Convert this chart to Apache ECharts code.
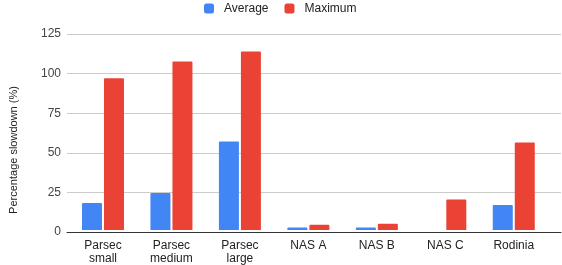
<!DOCTYPE html>
<html><head><meta charset="utf-8">
<script src="https://cdn.jsdelivr.net/npm/echarts@6/dist/echarts.min.js"></script>
<style>html,body{margin:0;padding:0;background:#fff}#c{width:562px;height:265px}</style>
</head><body><div id="c"></div>
<script>
var categories = ['Parsec\nsmall', 'Parsec\nmedium', 'Parsec\nlarge', 'NAS A', 'NAS B', 'NAS C', 'Rodinia'];
var average = [17.2, 23.6, 56.4, 1.6, 1.6, 0, 16.0];
var maximum = [96.8, 107.5, 113.8, 3.4, 4.0, 19.4, 55.8];
var yTicks = [0, 25, 50, 75, 100, 125];
var FONT = 'Liberation Sans, Arial, sans-serif';
var chart = echarts.init(document.getElementById('c'), null, {renderer: 'canvas'});
chart.setOption({
  animation: false,
  textStyle: {fontFamily: FONT},
  legend: {
    top: 2.5, left: 204, padding: 0, itemWidth: 10, itemHeight: 10, itemGap: 16,
    textStyle: {fontFamily: FONT, fontSize: 12, color: '#222', padding: [0, 0, 0, 5]},
    data: ['Average', 'Maximum']
  },
  grid: [
    {left: 68.75, right: 14, top: 34, bottom: 33},
    {left: 56, right: 1, top: 34, bottom: 33}
  ],
  xAxis: [
    {type: 'category', gridIndex: 0, data: categories,
     axisLine: {show: false}, axisTick: {show: false},
     axisLabel: {fontFamily: FONT, fontSize: 12, color: '#222', margin: 9, lineHeight: 13, interval: 0}},
    {type: 'value', gridIndex: 1, min: 0, max: 1,
     axisLine: {show: true, lineStyle: {color: '#333', width: 1}},
     axisTick: {show: false}, axisLabel: {show: false}, splitLine: {show: false}}
  ],
  yAxis: [
    {type: 'value', gridIndex: 0, min: 0, max: 125, interval: 25, show: false, splitLine: {show: false}},
    {type: 'value', gridIndex: 1, min: yTicks[0], max: yTicks[yTicks.length - 1], interval: 25,
     name: 'Percentage slowdown (%)', nameLocation: 'middle', nameGap: 48,
     nameTextStyle: {fontFamily: FONT, fontSize: 11, color: '#222', padding: [0, 34, 0, 0]},
     axisLine: {show: false}, axisTick: {show: false},
     axisLabel: {fontFamily: FONT, fontSize: 12, color: '#444', margin: 6},
     splitLine: {lineStyle: {color: '#ccc', width: 1}}}
  ],
  series: [
    {name: 'Average', type: 'bar', xAxisIndex: 0, yAxisIndex: 0, data: average,
     barWidth: 20, barGap: '10%', itemStyle: {color: '#4285F4', borderRadius: [1, 1, 0, 0]}, z: 5},
    {name: 'Maximum', type: 'bar', xAxisIndex: 0, yAxisIndex: 0, data: maximum,
     barWidth: 20, barGap: '10%', itemStyle: {color: '#EA4335', borderRadius: [1, 1, 0, 0]}, z: 5}
  ]
});
</script></body></html>
